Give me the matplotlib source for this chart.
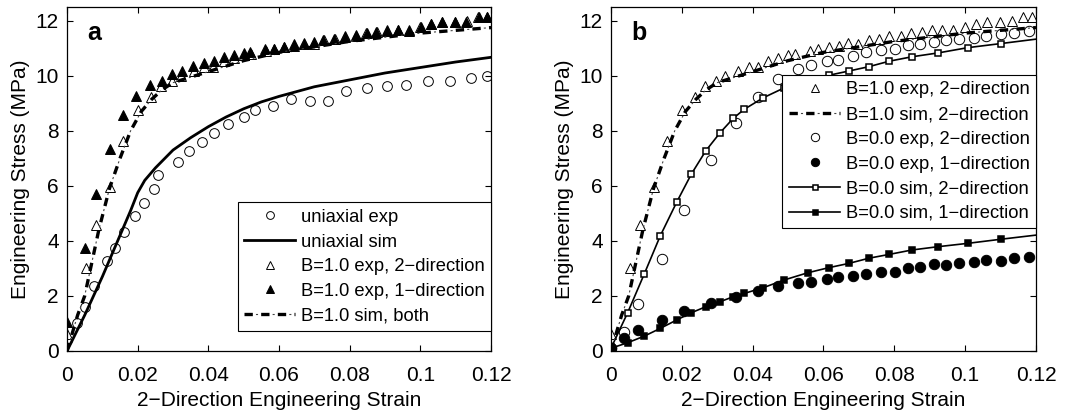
import numpy as np
import matplotlib; matplotlib.use("Agg")
import matplotlib.pyplot as plt

plt.rcParams["font.family"] = ["Liberation Sans", "DejaVu Sans"]
plt.rcParams["lines.scale_dashes"] = False

# ---------- panel a data ----------
uni_exp_x = [0, 0.0028, 0.0052, 0.0075, 0.0113, 0.0135, 0.016, 0.0192, 0.0219, 0.0245, 0.0258, 0.0313,
             0.0346, 0.0383, 0.0415, 0.0456, 0.05, 0.0533, 0.0583, 0.0635, 0.0687, 0.074, 0.079, 0.0849,
             0.0906, 0.096, 0.1022, 0.1085, 0.1142, 0.1189]
uni_exp_y = [0.4, 1.03, 1.59, 2.36, 3.28, 3.73, 4.31, 4.9, 5.38, 5.9, 6.4, 6.86, 7.26, 7.59, 7.92, 8.24,
             8.5, 8.77, 8.89, 9.15, 9.09, 9.09, 9.43, 9.54, 9.61, 9.67, 9.81, 9.81, 9.93, 10.0]
uni_sim_x = [0, 0.005, 0.01, 0.015, 0.018, 0.02, 0.022, 0.025, 0.03, 0.035, 0.04, 0.045, 0.05, 0.055,
             0.06, 0.07, 0.08, 0.09, 0.1, 0.11, 0.12]
uni_sim_y = [0, 1.3, 2.7, 4.2, 5.1, 5.75, 6.2, 6.65, 7.3, 7.75, 8.15, 8.5, 8.8, 9.05, 9.25, 9.6, 9.85,
             10.1, 10.3, 10.5, 10.67]
b1_exp2_x = [0, 0.0055, 0.0083, 0.0122, 0.0158, 0.02, 0.0238, 0.0266, 0.0296, 0.0322, 0.0358, 0.0389,
             0.0414, 0.0444, 0.0472, 0.0501, 0.052, 0.0562, 0.0585, 0.0615, 0.0643, 0.067, 0.0698,
             0.0728, 0.0758, 0.0786, 0.0819, 0.0847, 0.0877, 0.0906, 0.0936, 0.0967, 0.1, 0.1031,
             0.1062, 0.1099, 0.1132, 0.1164, 0.1189]
b1_exp2_y = [0.6, 3.03, 4.56, 5.97, 7.63, 8.75, 9.24, 9.62, 9.81, 9.99, 10.16, 10.33, 10.33, 10.54,
             10.63, 10.75, 10.79, 10.9, 10.99, 11.05, 11.08, 11.2, 11.17, 11.3, 11.32, 11.44, 11.45,
             11.54, 11.6, 11.66, 11.66, 11.68, 11.76, 11.88, 11.96, 11.96, 12.0, 12.14, 12.14]
b1_exp1_x = [0, 0.0052, 0.0083, 0.0121, 0.0158, 0.0196, 0.0236, 0.0268, 0.0297, 0.0324, 0.0357, 0.0389,
             0.0415, 0.0445, 0.0472, 0.05, 0.0519, 0.0561, 0.0587, 0.0615, 0.0642, 0.067, 0.0698,
             0.0725, 0.0755, 0.0786, 0.0819, 0.0849, 0.0875, 0.0906, 0.0936, 0.0967, 0.1002, 0.1031,
             0.1062, 0.1099, 0.113, 0.1166, 0.119]
b1_exp1_y = [1.07, 3.73, 5.7, 7.34, 8.57, 9.27, 9.66, 9.81, 10.08, 10.18, 10.35, 10.47, 10.54, 10.67,
             10.74, 10.81, 10.87, 10.96, 10.99, 11.05, 11.14, 11.17, 11.24, 11.3, 11.32, 11.42, 11.48,
             11.54, 11.6, 11.63, 11.66, 11.63, 11.78, 11.88, 11.94, 11.96, 11.96, 12.12, 12.12]
b1_sim_x = [0, 0.003, 0.005, 0.009, 0.012, 0.015, 0.018, 0.021, 0.024, 0.027, 0.03, 0.035, 0.04, 0.05,
            0.06, 0.07, 0.08, 0.09, 0.1, 0.11, 0.12]
b1_sim_y = [0, 1.3, 2.0, 4.4, 5.9, 7.0, 8.0, 8.7, 9.15, 9.5, 9.75, 9.95, 10.15, 10.55, 10.85, 11.05,
            11.25, 11.4, 11.55, 11.65, 11.75]

# ---------- panel b data ----------
b0_exp2_x = [0, 0.0038, 0.0077, 0.0143, 0.0206, 0.0282, 0.0353, 0.0416, 0.0471, 0.0529, 0.0565, 0.0609,
             0.0642, 0.0682, 0.072, 0.0762, 0.0802, 0.0838, 0.0873, 0.0911, 0.0946, 0.0984, 0.1024,
             0.1059, 0.1101, 0.1139, 0.1181]
b0_exp2_y = [0.1, 0.7, 1.69, 3.34, 5.12, 6.94, 8.27, 9.21, 9.87, 10.23, 10.38, 10.53, 10.57, 10.71,
             10.85, 10.93, 10.97, 11.11, 11.17, 11.23, 11.3, 11.32, 11.38, 11.45, 11.5, 11.54, 11.63]
b0_exp1_y = [0.1, 0.46, 0.76, 1.13, 1.46, 1.76, 1.97, 2.19, 2.36, 2.46, 2.52, 2.61, 2.7, 2.72, 2.8, 2.88,
             2.88, 3.0, 3.06, 3.15, 3.12, 3.18, 3.24, 3.3, 3.27, 3.39, 3.43]
b0_sim_x = [0, 0.0047, 0.0094, 0.0139, 0.0186, 0.0227, 0.0268, 0.0308, 0.0345, 0.0376, 0.043, 0.0489,
            0.0555, 0.0616, 0.0671, 0.0728, 0.0786, 0.085, 0.0924, 0.1007, 0.1101, 0.12]
b0_sim2_y = [0.1, 1.39, 2.8, 4.18, 5.42, 6.43, 7.28, 7.93, 8.45, 8.78, 9.2, 9.56, 9.8, 10.02, 10.17,
             10.33, 10.53, 10.69, 10.83, 11.02, 11.17, 11.33]
b0_sim1_y = [0.1, 0.3, 0.54, 0.82, 1.13, 1.39, 1.61, 1.79, 1.97, 2.09, 2.3, 2.58, 2.84, 3.03, 3.18, 3.37,
             3.51, 3.67, 3.79, 3.91, 4.06, 4.21]
b0_sim_marked = list(range(len(b0_sim_x) - 1))  # last point is the line end, no marker

xticks = [0, 0.02, 0.04, 0.06, 0.08, 0.1, 0.12]
xticklabels = ["0", "0.02", "0.04", "0.06", "0.08", "0.1", "0.12"]
yticks = [0, 2, 4, 6, 8, 10, 12]

FS = 15      # ticks / axis labels
LFS = 13.2   # legend
LEG = dict(borderaxespad=0, fontsize=LFS, fancybox=False, framealpha=1, edgecolor="black",
           handlelength=2.8, handletextpad=0.3, labelspacing=0.42, borderpad=0.35, markerscale=0.8)


def dashdot(ax, x, y):
    h1, = ax.plot(x, y, color="black", lw=2.4, ls=(0, (6, 6)), zorder=3)
    h2, = ax.plot(x, y, color="#444444", lw=0.8, ls=(3.75, (1.5, 10.5)), zorder=3)
    return (h1, h2)


def style(ax, letter):
    ax.set_xlim(0, 0.12); ax.set_ylim(0, 12.5)
    ax.set_xticks(xticks); ax.set_xticklabels(xticklabels)
    ax.set_yticks(yticks)
    ax.tick_params(direction="in", top=True, right=True, length=4, width=0.8, labelsize=FS)
    ax.tick_params(axis="x", pad=11)
    ax.tick_params(axis="y", pad=6)
    for s in ax.spines.values():
        s.set_linewidth(0.9)
    ax.set_xlabel("2\u2212Direction Engineering Strain", fontsize=FS, labelpad=4)
    ax.set_ylabel("Engineering Stress (MPa)", fontsize=FS, labelpad=4)
    ax.text(0.048, 0.925, letter, transform=ax.transAxes, fontsize=18, weight="bold", va="center")


fig = plt.figure(figsize=(10.74, 4.16), dpi=100)
axa = fig.add_axes([0.0624, 0.1563, 0.3948, 0.827])
axb = fig.add_axes([0.5689, 0.1563, 0.3957, 0.827])

# ---------- panel a ----------
ax = axa
h_ue, = ax.plot(uni_exp_x, uni_exp_y, ls="none", marker="o", ms=7, mfc="none", mec="black", mew=0.7)
h_us, = ax.plot(uni_sim_x, uni_sim_y, color="black", lw=2)
h_t2, = ax.plot(b1_exp2_x, b1_exp2_y, ls="none", marker="^", ms=7.5, mfc="white", mec="black", mew=0.7)
h_t1, = ax.plot(b1_exp1_x, b1_exp1_y, ls="none", marker="^", ms=7.5, mfc="black", mec="black", mew=0.7)
h_bs = dashdot(ax, b1_sim_x, b1_sim_y)
style(ax, "a")
leg = ax.legend([h_ue, h_us, h_t2, h_t1, h_bs],
                ["uniaxial exp", "uniaxial sim", "B=1.0 exp, 2\u2212direction", "B=1.0 exp, 1\u2212direction",
                 "B=1.0 sim, both"],
                loc="lower right", bbox_to_anchor=(1.0, 0.058), **LEG)
leg.get_frame().set_linewidth(0.8)

# ---------- panel b ----------
ax = axb
h1, = ax.plot(b1_exp2_x, b1_exp2_y, ls="none", marker="^", ms=7.5, mfc="white", mec="black", mew=0.7)
h2 = dashdot(ax, b1_sim_x, b1_sim_y)
h3, = ax.plot(b0_exp2_x, b0_exp2_y, ls="none", marker="o", ms=7.5, mfc="white", mec="black", mew=0.7)
h4, = ax.plot(b0_exp2_x, b0_exp1_y, ls="none", marker="o", ms=7.5, mfc="black", mec="black", mew=0.7)
h5, = ax.plot(b0_sim_x, b0_sim2_y, color="black", lw=1.2, marker="s", ms=4.5, mfc="white", mec="black",
              mew=1.1, markevery=b0_sim_marked)
h6, = ax.plot(b0_sim_x, b0_sim1_y, color="black", lw=1.2, marker="s", ms=4.5, mfc="black", mec="black",
              mew=1.1, markevery=b0_sim_marked)
style(ax, "b")
leg = ax.legend([h1, h2, h3, h4, h5, h6],
                ["B=1.0 exp, 2\u2212direction", "B=1.0 sim, 2\u2212direction", "B=0.0 exp, 2\u2212direction",
                 "B=0.0 exp, 1\u2212direction", "B=0.0 sim, 2\u2212direction", "B=0.0 sim, 1\u2212direction"],
                loc="upper right", bbox_to_anchor=(1.0, 0.802), **LEG)
leg.get_frame().set_linewidth(0.8)

fig.savefig("out.png", dpi=100)
